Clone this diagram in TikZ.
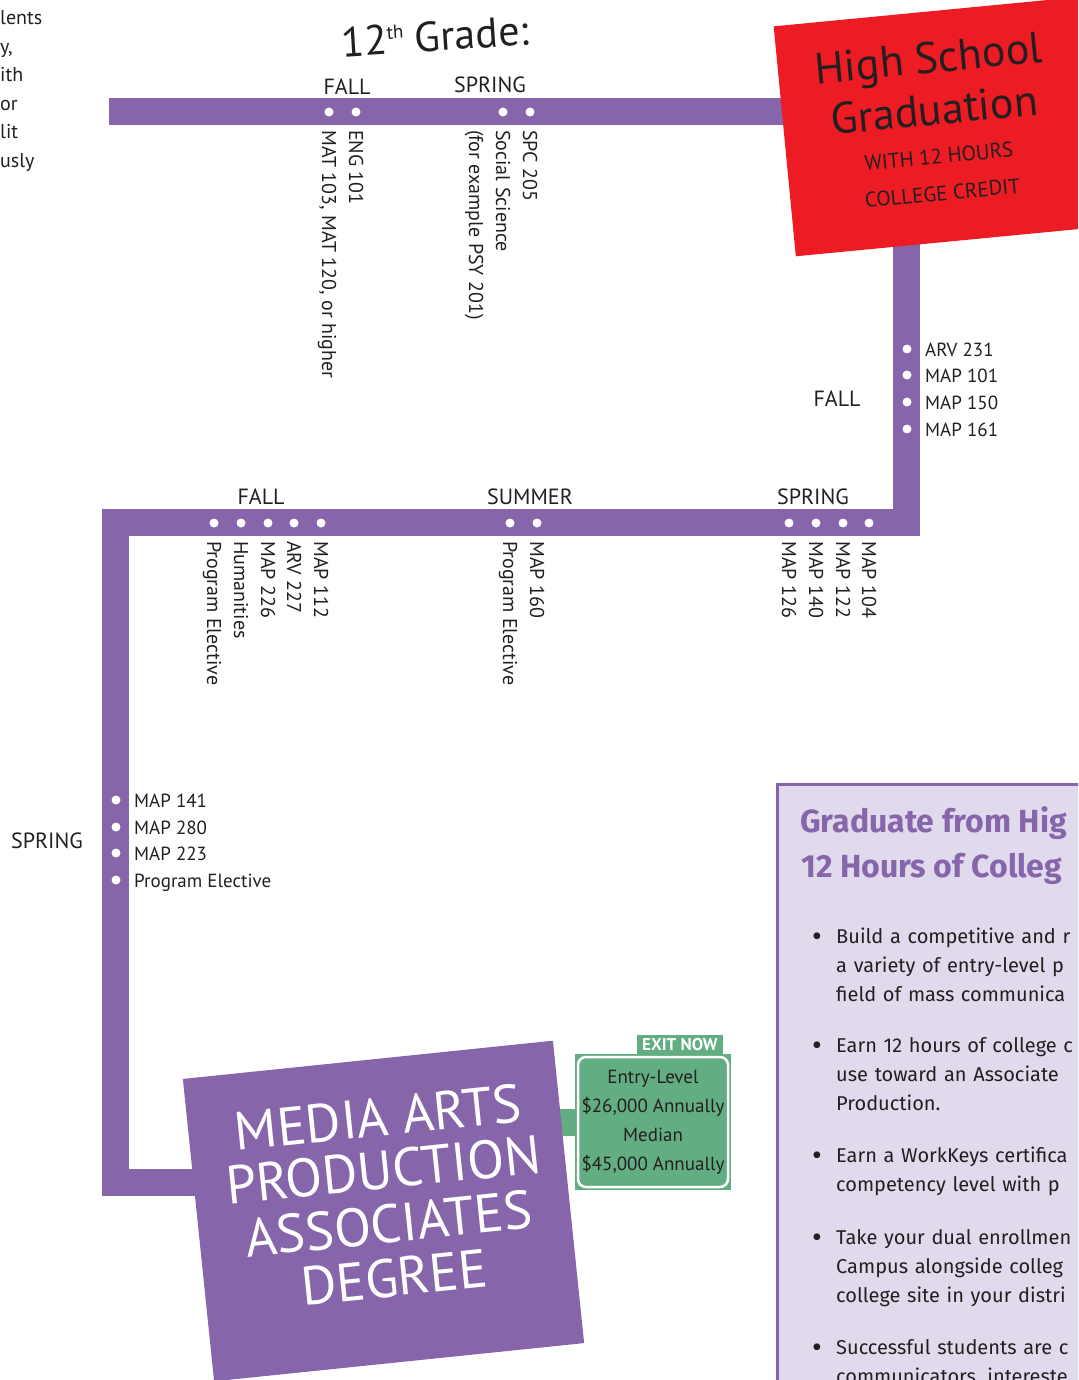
\documentclass[tikz,border=0pt]{standalone}
\usepackage{fontspec}
\setmainfont{PT Sans}
\newfontfamily\panelfont{Fira Sans}
\usetikzlibrary{backgrounds}
\definecolor{trackpurple}{RGB}{134,101,171}
\definecolor{gradred}{RGB}{237,28,36}
\definecolor{exitgreen}{RGB}{99,173,130}
\definecolor{panelfill}{RGB}{224,218,236}
\definecolor{ink}{RGB}{35,31,32}
\tikzset{
  track/.style={line width=27pt, draw=trackpurple, line cap=butt, line join=miter},
  exitlink/.style={line width=27pt, draw=exitgreen, line cap=butt},
  stop/.style={circle, fill=white, inner sep=0pt, minimum size=9pt},
  term/.style={text=ink, font=\fontsize{22}{26}\selectfont, inner sep=0pt},
  course/.style={text=ink, font=\fontsize{19}{22}\selectfont, inner sep=0pt, anchor=base west},
  downcourse/.style={course, font=\fontsize{20}{22}\selectfont, rotate=-90},
  frag/.style={text=ink, font=\fontsize{20}{24}\selectfont, inner sep=0pt, anchor=base west},
  gradbox/.style={fill=gradred, minimum width=320pt, minimum height=231pt, inner sep=0pt},
  gradbig/.style={text=ink, font=\fontsize{44}{50}\selectfont, inner sep=0pt, anchor=base},
  gradsmall/.style={text=ink, font=\fontsize{21}{25}\selectfont, inner sep=0pt, anchor=base},
  degbox/.style={fill=trackpurple, minimum width=372pt, minimum height=304pt, inner sep=0pt},
  degline/.style={text=white, font=\fontsize{54}{60}\selectfont, inner sep=0pt, anchor=base},
  paybg/.style={fill=exitgreen, minimum width=156pt, minimum height=136pt, inner sep=0pt},
  paybox/.style={fill=exitgreen, draw=white, line width=2.5pt, rounded corners=8pt,
    minimum width=150pt, minimum height=130pt, inner sep=0pt, text=ink,
    align=center, font=\fontsize{19}{29}\selectfont},
  exittag/.style={fill=exitgreen, text=white, font=\bfseries\fontsize{17}{19}\selectfont,
    minimum width=86pt, minimum height=19pt, inner sep=0pt},
  panel/.style={fill=panelfill, draw=trackpurple, line width=3pt, minimum width=400pt,
    minimum height=700pt, inner sep=0pt, anchor=north west},
  panelhead/.style={text=trackpurple, font=\panelfont\bfseries\fontsize{32}{36}\selectfont,
    inner sep=0pt, anchor=base west},
  item/.style={text=ink, font=\panelfont\fontsize{20}{29}\selectfont, inner sep=0pt,
    text width=320pt, align=left, anchor=base west},
  bulletmark/.style={text=ink, font=\panelfont\fontsize{30}{30}\selectfont, inner sep=0pt, anchor=base}
}
\begin{document}
\begin{tikzpicture}[x=1pt, y=-1pt]
  \useasboundingbox (0,0) rectangle (1078,1380);
  \clip (0,0) rectangle (1078,1380);

  \node[frag] (t1) at (0,25) {lents};
  \node[frag] (t2) at (0,53.5) {y,};
  \node[frag] (t3) at (0,82) {ith};
  \node[frag] (t4) at (0,110.5) {or};
  \node[frag] (t5) at (0,139) {lit};
  \node[frag] (t6) at (0,167.5) {usly};

  \node[text=ink, font=\fontsize{42}{48}\selectfont, inner sep=0pt, anchor=base, rotate=3.7]
    (grade) at (436,51) {12\raisebox{15pt}{\fontsize{19}{19}\selectfont th} Grade:};

  \coordinate (tstart) at (109,111.5);
  \coordinate (rturn) at (906.5,522.5);
  \coordinate (lturn) at (115.5,522.5);
  \coordinate (lend) at (115.5,1182.5);

  % 12th grade
  \node[term] (f12) at (347,87) {FALL};
  \node[term] (s12) at (490,85) {SPRING};
  \node[stop] (mat) at (329,112) {};
  \node[stop] (eng) at (356,112) {};
  \node[stop] (soc) at (503,112) {};
  \node[stop] (spc) at (530,112) {};
  \node[downcourse] (matl) at (322,130) {MAT 103, MAT 120, or higher};
  \node[downcourse] (engl) at (349,130) {ENG 101};
  \node[downcourse] (socl) at (496,130) {Social Science};
  \node[downcourse] (socx) at (469,130) {(for example PSY 201)};
  \node[downcourse] (spcl) at (523,130) {SPC 205};

  % high school graduation
  \begin{scope}[shift={(944,126)}, rotate=5.5, transform shape]
    \node[gradbox] (hs) at (0,0) {};
    \node[gradbig] (hs1) at (-9,-54) {High School};
    \node[gradbig] (hs2) at (-8,-2) {Graduation};
    \node[gradsmall] (hs3) at (-8,37) {WITH 12 HOURS};
    \node[gradsmall] (hs4) at (-8,74) {COLLEGE CREDIT};
  \end{scope}

  % first college fall
  \node[term] (f1) at (837,399) {FALL};
  \node[stop] (arv231) at (907,349) {};
  \node[stop] (map101) at (907,375) {};
  \node[stop] (map150) at (907,402) {};
  \node[stop] (map161) at (907,429) {};
  \node[course] at (925,356) {ARV 231};
  \node[course] at (925,382) {MAP 101};
  \node[course] at (925,409) {MAP 150};
  \node[course] at (925,436) {MAP 161};

  % middle row
  \node[term] (s1) at (813,497) {SPRING};
  \node[term] (su1) at (530,497) {SUMMER};
  \node[term] (f2) at (261,497) {FALL};
  \node[stop] (map104) at (869,523) {};
  \node[stop] (map122) at (843,523) {};
  \node[stop] (map140) at (816,523) {};
  \node[stop] (map126) at (789,523) {};
  \node[stop] (map160) at (537,523) {};
  \node[stop] (pe1) at (510,523) {};
  \node[stop] (map112) at (321,523) {};
  \node[stop] (arv227) at (294,523) {};
  \node[stop] (map226) at (268,523) {};
  \node[stop] (hum) at (241,523) {};
  \node[stop] (pe2) at (214,523) {};
  \node[downcourse] at (862,541) {MAP 104};
  \node[downcourse] at (836,541) {MAP 122};
  \node[downcourse] at (809,541) {MAP 140};
  \node[downcourse] at (782,541) {MAP 126};
  \node[downcourse] at (530,541) {MAP 160};
  \node[downcourse] at (503,541) {Program Elective};
  \node[downcourse] at (314,541) {MAP 112};
  \node[downcourse] at (287,541) {ARV 227};
  \node[downcourse] at (261,541) {MAP 226};
  \node[downcourse] at (234,541) {Humanities};
  \node[downcourse] at (207,541) {Program Elective};

  % last spring
  \node[term] (s2) at (47,841) {SPRING};
  \node[stop] (map141) at (116,800) {};
  \node[stop] (map280) at (116,827) {};
  \node[stop] (map223) at (116,853) {};
  \node[stop] (pe3) at (116,880) {};
  \node[course] at (134,807) {MAP 141};
  \node[course] at (134,834) {MAP 280};
  \node[course] at (134,860) {MAP 223};
  \node[course] at (134,887) {Program Elective};

  % degree
  \begin{scope}[shift={(383.5,1211)}, rotate=5.9, transform shape]
    \node[degbox] (mb) at (0,0) {};
    \node[degline] (mb1) at (4,-75) {MEDIA ARTS};
    \node[degline] (mb2) at (4,-22) {PRODUCTION};
    \node[degline] (mb3) at (4,32) {ASSOCIATES};
    \node[degline] (mb4) at (4,86) {DEGREE};
  \end{scope}

  \node[paybg] (paybg) at (653,1122) {};
  \node[paybox] (pay) at (paybg) {Entry-Level\\\$26,000 Annually\\Median\\\$45,000 Annually};
  \node[exittag, anchor=south east] (exit) at (723,1054) {EXIT NOW};

  % side panel
  \node[panel] (panel) at (775.5,782.5) {};
  \node[panelhead] (ph1) at (800,832) {Graduate from Hig};
  \node[panelhead] (ph2) at (801,877) {12 Hours of Colleg};
  \node[bulletmark] at (817,946) {\textbullet};
  \node[item] (i1) at (836,943) {Build a competitive and r\\a variety of entry-level p\\field of mass communica};
  \node[bulletmark] at (817,1055) {\textbullet};
  \node[item] (i2) at (836,1052) {Earn 12 hours of college c\\use toward an Associate\\Production.};
  \node[bulletmark] at (817,1165) {\textbullet};
  \node[item] (i3) at (836,1162) {Earn a WorkKeys certifica\\competency level with p};
  \node[bulletmark] at (817,1247) {\textbullet};
  \node[item] (i4) at (836,1244) {Take your dual enrollmen\\Campus alongside colleg\\college site in your distri};
  \node[bulletmark] at (817,1357) {\textbullet};
  \node[item] (i5) at (836,1354) {Successful students are c\\communicators, intereste};

  \begin{pgfonlayer}{background}
    \draw[track] (tstart) -- (tstart -| hs);
    \draw[track] (hs.center -| rturn) -- (rturn) -- (lturn) -- (lend) -- (lend -| mb);
    \draw[exitlink] (paybg.west) -- (paybg.west -| mb);
  \end{pgfonlayer}
\end{tikzpicture}
\end{document}
